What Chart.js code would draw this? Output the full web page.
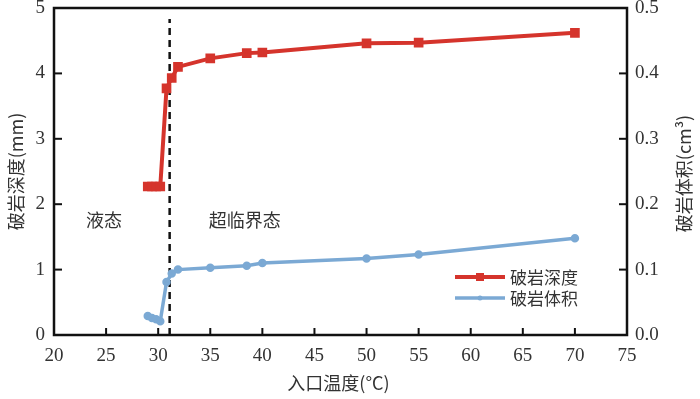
<!DOCTYPE html>
<html>
<head>
<meta charset="utf-8">
<script src="https://cdn.jsdelivr.net/npm/chart.js@4.4.1/dist/chart.umd.min.js"></script>
<style>
  body { margin: 0; background: #fff; }
  #wrap { width: 700px; height: 399px; }
  #preload { position: absolute; left: -1000px; top: 0; }
</style>
</head>
<body>
<div id="preload"><span style="font-family:'Liberation Serif'">0123456789.</span><span style="font-family:'Noto Sans CJK SC'">破岩深度</span></div>
<div id="wrap"><canvas id="chart"></canvas></div>
<script>
// data
var depthTemp = [29.0, 29.4, 29.8, 30.2, 30.8, 31.3, 31.9, 35, 38.5, 40, 50, 55, 70];
var depthMm = [2.27, 2.27, 2.27, 2.27, 3.77, 3.93, 4.1, 4.23, 4.31, 4.32, 4.46, 4.47, 4.62];
var volTemp = [29.0, 29.4, 29.8, 30.2, 30.8, 31.3, 31.9, 35, 38.5, 40, 50, 55, 70];
var volCm3 = [0.029, 0.026, 0.024, 0.021, 0.081, 0.094, 0.1, 0.103, 0.106, 0.11, 0.117, 0.123, 0.148];
var critTemp = 31.1;
var critLine = [0, 4.83];
var xTicks = [20, 25, 30, 35, 40, 45, 50, 55, 60, 65, 70, 75];
var labels = ['破岩深度', '破岩体积'];
var regionText = [['液态', 24.8, 1.75], ['超临界态', 38.3, 1.75]];

var red = '#d5342c';
var blue = '#7ba9d4';
var serif = "'Liberation Serif', serif";
var cjk = "'Noto Sans CJK SC', sans-serif";

function pts(xs, ys) {
    return xs.map(function (x, i) { return { x: x, y: ys[i] }; });
}

// tick marks (inward), tick labels, frame, titles, region text, legend
var decor = {
    id: 'decor',
    afterDraw: function (chart) {
        var c = chart.ctx, a = chart.chartArea, s = chart.scales;
        c.save();
        c.strokeStyle = '#111';
        c.lineWidth = 2;
        c.fillStyle = '#333';
        c.font = '19px ' + serif;
        c.textBaseline = 'middle';

        c.textAlign = 'center';
        xTicks.forEach(function (v) {
            var px = s.x.getPixelForValue(v);
            c.beginPath(); c.moveTo(px, a.bottom); c.lineTo(px, a.bottom - 7); c.stroke();
            c.fillText(String(v), px, a.bottom + 21);
        });
        c.textAlign = 'right';
        s.y.ticks.forEach(function (t) {
            var py = s.y.getPixelForValue(t.value);
            c.beginPath(); c.moveTo(a.left, py); c.lineTo(a.left + 8, py); c.stroke();
            c.fillText(String(t.value), a.left - 9, py);
        });
        c.textAlign = 'left';
        s.y1.ticks.forEach(function (t) {
            var py = s.y1.getPixelForValue(t.value);
            c.beginPath(); c.moveTo(a.right, py); c.lineTo(a.right - 8, py); c.stroke();
            c.fillText(t.value.toFixed(1), a.right + 8, py);
        });
        c.lineWidth = 2.5;
        c.strokeRect(a.left, a.top, a.right - a.left, a.bottom - a.top);

        // axis titles
        c.textAlign = 'center';
        c.font = '18px ' + cjk;
        c.fillText('入口温度(°C)', (a.left + a.right) / 2 - 2, 383);
        c.save();
        c.translate(16, (a.top + a.bottom) / 2);
        c.rotate(-Math.PI / 2);
        c.fillText('破岩深度(mm)', 0, 0);
        c.restore();
        c.save();
        c.translate(684, (a.top + a.bottom) / 2 + 2);
        c.rotate(-Math.PI / 2);
        c.fillText('破岩体积(cm³)', 0, 0);
        c.restore();

        // region labels
        regionText.forEach(function (r) {
            c.fillText(r[0], s.x.getPixelForValue(r[1]), s.y.getPixelForValue(r[2]));
        });

        // legend
        var ds = chart.data.datasets;
        [0, 1].forEach(function (i) {
            var y = 277 + i * 21;
            c.strokeStyle = ds[i].borderColor;
            c.lineWidth = ds[i].borderWidth;
            c.beginPath(); c.moveTo(455, y); c.lineTo(505, y); c.stroke();
            c.fillStyle = ds[i].borderColor;
            var r = ds[i].pointRadius;
            if (i === 0) c.fillRect(480 - r, y - r, 2 * r, 2 * r);
            else { c.beginPath(); c.arc(480, y, r, 0, 2 * Math.PI); c.fill(); }
            c.fillStyle = '#333';
            c.textAlign = 'left';
            c.font = '17px ' + cjk;
            c.fillText(labels[i], 510, y + 1);
        });
        c.restore();
    }
};

var ctx = document.getElementById('chart').getContext('2d');
var myChart = new Chart(ctx, {
    type: 'line',
    data: {
        datasets: [
            {
                label: labels[0],
                data: pts(depthTemp, depthMm),
                yAxisID: 'y',
                borderColor: red,
                backgroundColor: red,
                borderWidth: 4,
                pointStyle: 'rect',
                pointRadius: 4,
            },
            {
                label: labels[1],
                data: pts(volTemp, volCm3),
                yAxisID: 'y1',
                borderColor: blue,
                backgroundColor: blue,
                borderWidth: 3.5,
                pointStyle: 'circle',
                pointRadius: 2.5,
            },
            {
                label: 'critical',
                data: pts([critTemp, critTemp], critLine),
                yAxisID: 'y',
                borderColor: '#111',
                borderWidth: 2.5,
                borderDash: [7, 5],
                pointRadius: 0,
            },
        ],
    },
    options: {
        responsive: true,
        maintainAspectRatio: false,
        animation: false,
        layout: { padding: { top: 3, left: 0, right: 0, bottom: 0 } },
        plugins: { legend: { display: false }, tooltip: { enabled: false } },
        scales: {
            x: {
                type: 'linear', min: 20, max: 75,
                afterFit: function (s) { s.height = 64; },
                grid: { display: false, drawTicks: false },
                border: { display: false },
                ticks: { display: false },
            },
            y: {
                position: 'left', min: 0, max: 5,
                afterFit: function (s) { s.width = 54; },
                grid: { display: false, drawTicks: false },
                border: { display: false },
                ticks: { stepSize: 1, display: false },
            },
            y1: {
                position: 'right', min: 0, max: 0.5,
                afterFit: function (s) { s.width = 73; },
                grid: { display: false, drawTicks: false },
                border: { display: false },
                ticks: { stepSize: 0.1, display: false },
            },
        },
    },
    plugins: [decor],
});

// redraw once the fonts are ready so the labels use them
if (document.fonts) {
    Promise.all([
        document.fonts.load('19px "Liberation Serif"'),
        document.fonts.load('18px "Noto Sans CJK SC"', '破岩'),
    ]).then(function () { myChart.draw(); });
}
</script>
</body>
</html>
